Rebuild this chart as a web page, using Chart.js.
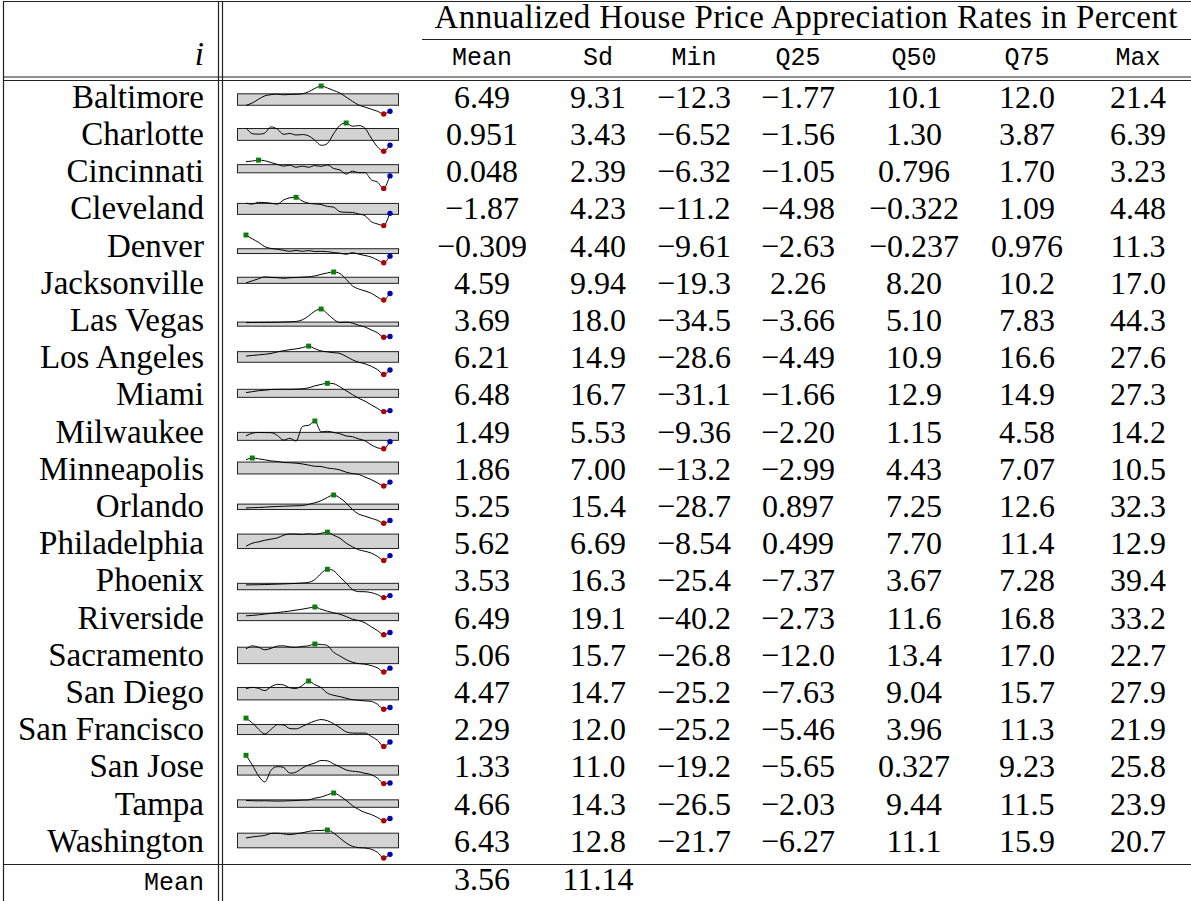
<!DOCTYPE html>
<html lang="en">
<head>
  <meta charset="UTF-8" />
  <title>Annualized House Price Appreciation Rates</title>
  <script src="https://cdn.jsdelivr.net/npm/chart.js"></script>
  <style>
    body { margin: 0; background: #fff; }
    #page { position: relative; width: 1191px; height: 901px; overflow: hidden; }
    #page svg { position: absolute; left: 0; top: 0; }
    .spark { position: absolute; }
    .rm { font-family: "Liberation Serif", serif; font-size: 32px; fill: #000; }
    .lab { font-family: "Liberation Serif", serif; font-size: 33px; fill: #000; }
    .tt { font-family: "Liberation Mono", monospace; font-size: 25px; fill: #000; }
  </style>
</head>
<body>
<div id="page">
  <svg id="grid" width="1191" height="901"></svg>
</div>

<script>
  // table columns
  const cities = ['Baltimore', 'Charlotte', 'Cincinnati', 'Cleveland', 'Denver', 'Jacksonville',
    'Las Vegas', 'Los Angeles', 'Miami', 'Milwaukee', 'Minneapolis', 'Orlando', 'Philadelphia',
    'Phoenix', 'Riverside', 'Sacramento', 'San Diego', 'San Francisco', 'San Jose', 'Tampa', 'Washington'];
  const colNames = ['Mean', 'Sd', 'Min', 'Q25', 'Q50', 'Q75', 'Max'];
  const meanCol = ['6.49', '0.951', '0.048', '-1.87', '-0.309', '4.59', '3.69', '6.21', '6.48', '1.49', '1.86',
    '5.25', '5.62', '3.53', '6.49', '5.06', '4.47', '2.29', '1.33', '4.66', '6.43'];
  const sdCol = ['9.31', '3.43', '2.39', '4.23', '4.40', '9.94', '18.0', '14.9', '16.7', '5.53', '7.00',
    '15.4', '6.69', '16.3', '19.1', '15.7', '14.7', '12.0', '11.0', '14.3', '12.8'];
  const minCol = ['-12.3', '-6.52', '-6.32', '-11.2', '-9.61', '-19.3', '-34.5', '-28.6', '-31.1', '-9.36', '-13.2',
    '-28.7', '-8.54', '-25.4', '-40.2', '-26.8', '-25.2', '-25.2', '-19.2', '-26.5', '-21.7'];
  const q25Col = ['-1.77', '-1.56', '-1.05', '-4.98', '-2.63', '2.26', '-3.66', '-4.49', '-1.66', '-2.20', '-2.99',
    '0.897', '0.499', '-7.37', '-2.73', '-12.0', '-7.63', '-5.46', '-5.65', '-2.03', '-6.27'];
  const q50Col = ['10.1', '1.30', '0.796', '-0.322', '-0.237', '8.20', '5.10', '10.9', '12.9', '1.15', '4.43',
    '7.25', '7.70', '3.67', '11.6', '13.4', '9.04', '3.96', '0.327', '9.44', '11.1'];
  const q75Col = ['12.0', '3.87', '1.70', '1.09', '0.976', '10.2', '7.83', '16.6', '14.9', '4.58', '7.07',
    '12.6', '11.4', '7.28', '16.8', '17.0', '15.7', '11.3', '9.23', '11.5', '15.9'];
  const maxCol = ['21.4', '6.39', '3.23', '4.48', '11.3', '17.0', '44.3', '27.6', '27.3', '14.2', '10.5',
    '32.3', '12.9', '39.4', '33.2', '22.7', '27.9', '21.9', '25.8', '23.9', '20.7'];
  const meanRow = ['3.56', '11.14'];

  // sparkline series (percent)
  const baltimore = [-2.0, 1.0, 5.5, 9.5, 11.0, 11.5, 10.8, 11.2, 11.5, 12.0, 14.5, 18.5, 21.4, 19.0, 16.0, 13.0, 8.0, 3.0, -1.5, -4.0, -6.5, -9.0, -12.3, -9.0];
  const charlotte = [4.1, 1.5, 1.3, 1.8, 4.6, 3.6, 1.2, 1.6, 0.9, 1.1, 0.5, -1.5, -3.8, -3.0, 1.5, 5.3, 6.39, 4.9, 5.2, 4.0, -0.5, -4.5, -6.52, -3.8];
  const cincinnati = [2.7, 2.9, 3.23, 3.0, 2.4, 1.8, 1.2, 1.5, 0.8, 1.2, 0.8, 1.4, 1.1, 1.6, 0.4, -0.1, -1.5, -0.5, -1.0, -1.0, -3.4, -4.2, -6.32, -2.1];
  const cleveland = [1.2, 0.7, 1.7, 1.6, 1.2, 0.7, 3.0, 4.2, 4.48, 2.4, 1.2, 0.8, 0.5, -0.6, -1.0, -3.5, -3.8, -3.9, -4.8, -5.7, -9.0, -10.3, -11.2, -4.4];
  const denver = [11.3, 8.4, 5.8, 2.5, 1.2, 0.6, -0.2, -1.0, -0.3, -1.0, -0.4, -1.1, -1.0, -1.2, -1.9, -2.4, -3.2, -2.0, -3.1, -4.1, -5.3, -7.5, -9.61, -4.6];
  const jacksonville = [2.9, 5.5, 8.3, 10.6, 10.0, 9.6, 8.8, 9.5, 9.9, 10.3, 10.8, 11.9, 14.0, 15.8, 17.0, 15.0, 7.5, -1.0, -5.0, -7.5, -10.5, -15.5, -19.3, -10.8];
  const lasVegas = [6.3, 6.5, 6.5, 6.8, 7.0, 7.2, 7.8, 8.5, 9.5, 14.0, 25.0, 38.5, 44.3, 31.0, 15.6, 6.5, 7.5, 5.0, -1.5, -6.0, -14.0, -22.0, -34.5, -32.6];
  const losAngeles = [7.8, 9.0, 10.2, 11.3, 13.0, 16.0, 18.5, 20.5, 22.0, 24.5, 27.6, 22.5, 18.0, 16.2, 14.5, 13.1, 7.0, 0.5, -4.5, -7.5, -12.5, -19.0, -28.6, -19.8];
  const miami = [8.1, 10.0, 12.0, 13.0, 14.5, 14.9, 15.0, 15.0, 15.3, 16.0, 18.0, 22.0, 25.0, 27.3, 26.5, 20.0, 12.0, 4.0, -3.5, -9.5, -17.0, -24.5, -31.1, -29.0];
  const milwaukee = [1.7, 3.8, 4.5, 4.4, 4.3, 2.0, -2.0, -0.5, -2.8, 9.5, 10.5, 14.2, 5.0, 5.5, 4.5, 3.4, 1.5, 0.9, -1.0, -2.5, -6.0, -8.5, -9.36, -3.3];
  const minneapolis = [9.1, 10.5, 9.8, 9.0, 8.0, 7.6, 6.7, 6.5, 6.1, 5.5, 4.5, 3.5, 3.3, 2.0, 1.4, 0.4, -1.5, -2.7, -3.4, -5.6, -7.8, -10.5, -13.2, -9.9];
  const orlando = [4.3, 4.8, 5.3, 6.0, 6.8, 7.5, 8.0, 8.5, 9.0, 9.5, 12.0, 15.5, 20.0, 27.0, 32.3, 26.0, 15.0, 1.0, -9.0, -13.5, -18.0, -22.5, -28.7, -23.0];
  const philadelphia = [2.2, 4.5, 5.5, 6.7, 7.6, 8.5, 10.5, 11.5, 11.4, 11.1, 11.6, 11.2, 12.0, 12.9, 10.5, 8.3, 4.5, 1.8, -0.5, -1.6, -3.0, -5.5, -8.54, -4.9];
  const phoenix = [3.6, 3.9, 4.1, 4.5, 5.0, 5.4, 5.9, 6.5, 7.2, 8.0, 9.5, 16.0, 30.0, 39.4, 36.0, 22.0, 8.0, -7.0, -11.7, -12.0, -14.0, -18.5, -25.4, -20.8];
  const riverside = [9.9, 11.0, 12.5, 14.5, 16.5, 18.5, 20.5, 22.5, 25.0, 27.5, 30.5, 33.2, 27.0, 22.0, 18.0, 14.0, 8.0, 1.0, -2.5, -8.5, -19.0, -29.0, -40.2, -34.2];
  const sacramento = [14.2, 19.5, 17.0, 12.5, 15.0, 19.0, 19.5, 17.5, 17.0, 18.5, 19.5, 22.7, 21.8, 20.0, 8.0, 1.5, -5.0, -9.5, -12.0, -13.0, -15.5, -19.5, -26.8, -20.0];
  const sanDiego = [13.5, 16.0, 14.0, 9.8, 17.0, 21.5, 20.5, 15.0, 14.0, 19.5, 27.9, 21.0, 15.5, 5.0, 1.0, -1.5, -4.5, -7.3, -8.5, -9.6, -10.5, -16.0, -25.2, -22.1];
  const sanFrancisco = [21.9, 14.0, 3.5, -4.5, 3.0, 11.0, 10.5, 4.5, 4.0, 8.0, 13.0, 17.0, 19.5, 17.5, 12.5, 6.0, -1.0, -3.0, -3.2, -3.0, -8.6, -15.0, -25.2, -18.0];
  const sanJose = [25.8, 10.5, -7.0, -16.5, 2.0, 7.7, 6.5, -2.5, -1.0, 5.5, 10.5, 13.5, 17.5, 17.0, 12.0, 7.5, 2.5, 0.5, -0.5, -2.8, -5.0, -10.5, -19.2, -18.2];
  const tampa = [10.3, 10.0, 9.6, 9.8, 9.5, 9.2, 9.4, 9.8, 10.3, 11.0, 11.4, 14.5, 16.5, 20.5, 23.9, 18.5, 10.5, 1.0, -6.0, -11.5, -15.0, -20.5, -26.5, -22.4];
  const washington = [8.7, 10.2, 11.3, 12.5, 15.5, 15.8, 14.8, 13.7, 15.0, 16.5, 18.5, 19.8, 20.0, 20.7, 16.0, 8.5, 1.0, -4.0, -6.0, -6.5, -8.5, -13.0, -21.7, -16.2];

  const sparkData = [baltimore, charlotte, cincinnati, cleveland, denver, jacksonville, lasVegas,
    losAngeles, miami, milwaukee, minneapolis, orlando, philadelphia, phoenix, riverside,
    sacramento, sanDiego, sanFrancisco, sanJose, tampa, washington];

  // layout
  const colX = [482, 598, 694, 798, 914, 1027, 1138];
  const labelRight = 204;
  const firstBase = 107.7, rowStep = 37.2;
  const svg = document.getElementById('grid');
  const NS = 'http://www.w3.org/2000/svg';

  function line(x1, y1, x2, y2) {
    const l = document.createElementNS(NS, 'line');
    l.setAttribute('x1', x1); l.setAttribute('y1', y1);
    l.setAttribute('x2', x2); l.setAttribute('y2', y2);
    l.setAttribute('stroke', '#222'); l.setAttribute('stroke-width', 1.2);
    svg.appendChild(l);
  }
  function text(str, x, y, cls, anchor, italic) {
    const t = document.createElementNS(NS, 'text');
    t.setAttribute('x', x); t.setAttribute('y', y);
    t.setAttribute('class', cls);
    t.setAttribute('text-anchor', anchor || 'middle');
    if (italic) t.setAttribute('font-style', 'italic');
    t.textContent = str.replace(/-/g, '\u2212');
    svg.appendChild(t);
    return t;
  }

  // rules
  line(3, 1.5, 1191, 1.5);
  line(3.5, 1, 3.5, 901);
  line(218.5, 1, 218.5, 901);
  line(222.5, 1, 222.5, 901);
  line(422, 39.5, 1191, 39.5);
  line(3, 77, 1191, 77);
  line(3, 80.5, 1191, 80.5);
  line(3, 864.5, 1191, 864.5);

  // header
  const title = text('Annualized House Price Appreciation Rates in Percent', 806, 28, 'lab');
  title.setAttribute('textLength', 743);
  text('i', labelRight, 65, 'lab', 'end', true);
  colNames.forEach((n, j) => text(n, colX[j], 65, 'tt'));

  // rows
  const cols = [meanCol, sdCol, minCol, q25Col, q50Col, q75Col, maxCol];
  cities.forEach((c, k) => {
    const b = firstBase + rowStep * k;
    text(c, labelRight, b, 'lab', 'end');
    cols.forEach((col, j) => text(col[k], colX[j], b, 'rm'));
  });
  text('Mean', labelRight, 890, 'tt', 'end');
  meanRow.forEach((v, j) => text(v, colX[j], 890, 'rm'));

  // grey box between Q25 and Q75, wider than the line
  const iqrBox = {
    id: 'iqrBox',
    beforeDatasetsDraw(chart, args, opts) {
      const { ctx, chartArea, scales: { y } } = chart;
      const top = y.getPixelForValue(opts.hi);
      const bot = y.getPixelForValue(opts.lo);
      const l = Math.round(chartArea.left - 9) + 0.5;
      const r = Math.round(chartArea.right + 8) + 0.5;
      ctx.save();
      ctx.fillStyle = '#d3d3d3';
      ctx.strokeStyle = '#222';
      ctx.lineWidth = 1;
      ctx.fillRect(l, top, r - l, bot - top);
      ctx.strokeRect(l, top, r - l, bot - top);
      ctx.restore();
    }
  };

  const page = document.getElementById('page');
  sparkData.forEach((vals, k) => {
    const b = firstBase + rowStep * k;
    const top = Math.round(b - 26);
    const padTop = (b - 22) - top;
    const h = 37;
    const cv = document.createElement('canvas');
    cv.className = 'spark';
    cv.width = 164; cv.height = h;
    cv.style.left = '236px';
    cv.style.top = top + 'px';
    page.appendChild(cv);

    const lo = parseFloat(minCol[k]), hi = parseFloat(maxCol[k]);
    const iMax = vals.indexOf(Math.max(...vals));
    const iMin = vals.indexOf(Math.min(...vals));
    const last = vals.length - 1;
    const radius = vals.map((v, i) => (i === iMax ? 3.5 : (i === iMin || i === last) ? 2.7 : 0));
    const colors = vals.map((v, i) => (i === last ? '#0000b0' : i === iMin ? '#b00000' : '#0b7d0b'));
    const styles = vals.map((v, i) => (i === iMax ? 'rect' : 'circle'));

    new Chart(cv.getContext('2d'), {
      type: 'line',
      data: {
        labels: vals.map((v, i) => i),
        datasets: [{
          data: vals,
          borderColor: '#000',
          borderWidth: 1,
          cubicInterpolationMode: 'monotone',
          pointRadius: radius,
          pointStyle: styles,
          pointBackgroundColor: colors,
          pointBorderWidth: 0,
          clip: false
        }]
      },
      options: {
        responsive: false,
        animation: false,
        events: [],
        layout: { padding: { left: 10, right: 10, top: padTop, bottom: h - padTop - 28.3 } },
        plugins: {
          legend: { display: false },
          tooltip: { enabled: false },
          iqrBox: { lo: parseFloat(q25Col[k]), hi: parseFloat(q75Col[k]) }
        },
        scales: {
          x: { type: 'category', display: false, offset: false },
          y: { display: false, min: lo, max: hi }
        }
      },
      plugins: [iqrBox]
    });
  });
</script>
</body>
</html>
